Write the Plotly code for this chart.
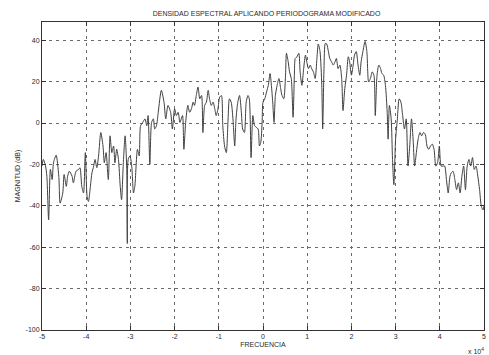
import plotly.graph_objects as go

# Frequency (x 10^4) and magnitude (dB)
freq = [-5.00, -4.97, -4.92, -4.89, -4.85, -4.81, -4.77, -4.74, -4.68, -4.62,
        -4.59, -4.53, -4.50, -4.45, -4.42, -4.38, -4.32, -4.29, -4.23, -4.17,
        -4.14, -4.10, -4.06, -4.02, -3.98, -3.95, -3.87, -3.83, -3.80, -3.76,
        -3.72, -3.67, -3.62, -3.59, -3.55, -3.50, -3.46, -3.42, -3.38, -3.35,
        -3.31, -3.27, -3.23, -3.20, -3.16, -3.12, -3.08, -3.07, -3.05, -3.01,
        -2.97, -2.93, -2.90, -2.84, -2.80, -2.77, -2.72, -2.67, -2.63, -2.60,
        -2.56, -2.52, -2.48, -2.45, -2.41, -2.37, -2.30, -2.24, -2.20, -2.15,
        -2.09, -2.05, -2.00, -1.96, -1.92, -1.88, -1.85, -1.82, -1.79, -1.75,
        -1.70, -1.66, -1.62, -1.58, -1.55, -1.51, -1.47, -1.43, -1.39, -1.36,
        -1.32, -1.28, -1.24, -1.21, -1.17, -1.13, -1.09, -1.06, -1.02, -0.98,
        -0.94, -0.91, -0.87, -0.83, -0.79, -0.76, -0.72, -0.68, -0.64, -0.61,
        -0.57, -0.53, -0.49, -0.46, -0.42, -0.38, -0.34, -0.31, -0.27, -0.23,
        -0.19, -0.15, -0.11, -0.08, -0.05, -0.02, 0.00, 0.04, 0.08, 0.12,
        0.16, 0.19, 0.22, 0.25, 0.28, 0.32, 0.36, 0.40, 0.43, 0.47,
        0.51, 0.53, 0.57, 0.60, 0.64, 0.68, 0.71, 0.73, 0.77, 0.81,
        0.84, 0.88, 0.92, 0.96, 0.99, 1.03, 1.07, 1.10, 1.14, 1.18,
        1.22, 1.25, 1.29, 1.33, 1.35, 1.38, 1.41, 1.44, 1.48, 1.51,
        1.55, 1.59, 1.63, 1.66, 1.70, 1.74, 1.78, 1.81, 1.85, 1.89,
        1.93, 1.96, 2.00, 2.04, 2.07, 2.11, 2.15, 2.19, 2.22, 2.26,
        2.31, 2.35, 2.39, 2.43, 2.47, 2.51, 2.54, 2.58, 2.62, 2.66,
        2.69, 2.73, 2.77, 2.81, 2.83, 2.86, 2.90, 2.93, 2.96, 3.00,
        3.04, 3.08, 3.12, 3.16, 3.20, 3.24, 3.28, 3.32, 3.36, 3.40,
        3.43, 3.47, 3.51, 3.55, 3.59, 3.63, 3.67, 3.71, 3.75, 3.79,
        3.83, 3.87, 3.91, 3.95, 3.99, 4.03, 4.07, 4.11, 4.15, 4.19,
        4.23, 4.26, 4.30, 4.34, 4.38, 4.42, 4.46, 4.50, 4.54, 4.58,
        4.62, 4.66, 4.70, 4.74, 4.78, 4.82, 4.86, 4.90, 4.94, 4.98,
        5.00]

magnitude = [-20.8, -17.6, -20.8, -25.7, -46.8, -22.4, -27.3, -19.2, -15.6, -25.7,
             -38.7, -33.8, -24.9, -30.6, -25.7, -23.3, -25.7, -28.9, -23.3, -22.4,
             -21.6, -30.6, -33.8, -14.3, -35.4, -37.9, -24.1, -20.8, -17.6, -21.6,
             -15.9, -4.6, -11.1, -19.2, -14.3, -27.3, -6.2, -14.3, -11.1, -19.2,
             -12.7, -17.6, -30.6, -37.1, -19.2, -6.2, -24.1, -58.2, -17.6, -15.9,
             -20.8, -33.8, -30.6, -12.7, -15.9, -1.3, 0.3, 2.0, -1.3, 3.6,
             -20.0, 0.3, 2.0, -2.9, -1.3, 5.2, 15.8, 10.1, 2.0, 8.5,
             5.2, -2.9, 6.8, 3.6, 5.2, 0.3, 2.0, 3.6, -12.7, 0.3,
             8.5, 5.2, 6.8, 10.1, 8.5, 13.3, 17.4, 11.7, 13.3, -4.6,
             8.5, 10.1, 15.8, 11.7, 8.5, 10.1, 6.8, 3.6, 6.8, 12.5,
             13.3, -1.3, -11.1, -14.3, 2.0, 11.7, 10.1, 2.0, -11.1, 2.0,
             10.1, 13.3, 5.2, -2.9, -4.6, 10.1, 13.3, 11.7, -16.7, 3.6,
             -1.3, -2.1, -2.9, -11.1, -9.4, 0.3, 10.1, 11.7, 15.0, 18.2,
             23.9, 18.2, 10.1, 0.3, 13.3, 18.2, 21.5, 16.6, 13.3, 11.7,
             23.1, 33.7, 29.6, 24.7, 21.5, 2.8, 23.1, 31.2, 32.0, 33.7,
             24.7, 18.2, 26.3, 32.8, 29.6, 26.3, 28.0, 26.3, 24.7, 21.5,
             31.2, 38.2, 34.5, 18.2, -2.9, 26.3, 38.5, 38.2, 34.5, 31.2,
             29.6, 28.0, 29.6, 31.2, 26.3, 28.0, 21.5, 6.0, 16.6, 23.1,
             32.0, 29.6, 23.1, 28.0, 32.8, 34.5, 28.0, 23.1, 29.6, 34.5,
             39.4, 34.5, 19.8, 21.5, 24.7, 23.1, 3.6, 23.1, 28.0, 26.3,
             23.9, 23.1, 18.2, 5.2, -7.8, 8.5, 2.0, -17.6, -29.8, -7.8,
             2.0, 11.7, 10.1, 3.6, -2.9, 2.0, -20.8, -11.1, 2.0, -9.4,
             -20.8, -14.3, -7.8, -4.6, -6.2, -4.6, -5.4, -11.1, -12.7, -11.1,
             -10.2, -12.7, -20.8, -19.2, -11.1, -20.8, -20.8, -20.8, -27.3, -33.8,
             -25.7, -24.1, -23.3, -27.3, -32.2, -28.9, -33.8, -25.7, -20.8, -32.2,
             -20.8, -17.6, -20.8, -16.7, -22.4, -20.8, -25.7, -32.2, -40.3, -42.0,
             -40.0]

x_ticks = [-5, -4, -3, -2, -1, 0, 1, 2, 3, 4, 5]
y_ticks = [-100, -80, -60, -40, -20, 0, 20, 40]

title_text = "DENSIDAD ESPECTRAL APLICANDO PERIODOGRAMA MODIFICADO"
x_label = "FRECUENCIA"
y_label = "MAGNITUD (dB)"

font_family = "Liberation Sans, Arial, sans-serif"
text_color = "#2a2a2a"

fig = go.Figure()
fig.add_trace(go.Scatter(
    x=freq, y=magnitude, mode="lines",
    line=dict(color="#404040", width=1, shape="spline", smoothing=0.7),
    showlegend=False, hoverinfo="skip"))

axis_common = dict(
    showgrid=True, gridcolor="#6a6a6a", griddash="3px,4px", gridwidth=1,
    showline=True, linecolor="#333333", linewidth=1, mirror="ticks",
    ticks="inside", ticklen=4, tickcolor="#333333",
    zeroline=False,
    tickfont=dict(family=font_family, size=7, color=text_color),
)

fig.update_layout(
    width=489, height=355,
    margin=dict(l=42, r=3, t=22, b=25),
    paper_bgcolor="white", plot_bgcolor="white",
    font=dict(family=font_family, size=7, color=text_color),
    title=dict(text=title_text, x=0.545, xanchor="center", y=0.962, yanchor="middle",
               font=dict(family=font_family, size=7, color=text_color)),
    xaxis=dict(range=[-5, 5], tickvals=x_ticks, ticktext=[str(v) for v in x_ticks],
               title=dict(text=x_label, standoff=2,
                          font=dict(family=font_family, size=7, color=text_color)),
               **axis_common),
    yaxis=dict(range=[-100, 48.8], tickvals=y_ticks, ticktext=[str(v) for v in y_ticks],
               title=dict(text=y_label, standoff=4,
                          font=dict(family=font_family, size=7, color=text_color)),
               **axis_common),
)

fig.add_annotation(text="x 10<sup>4</sup>", xref="paper", yref="paper",
                   x=1.005, y=-0.05, xanchor="right", yanchor="top", showarrow=False,
                   font=dict(family=font_family, size=7, color=text_color))

fig.write_html("out.html")
